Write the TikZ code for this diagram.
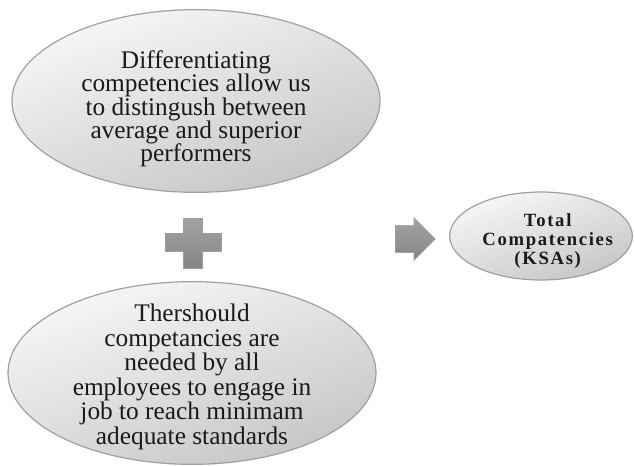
\documentclass[tikz,border=0pt]{standalone}
\usepackage{fontspec}
\setmainfont{Liberation Serif}
\usetikzlibrary{positioning,shapes.geometric,shapes.arrows}
\definecolor{kinkk}{HTML}{1A1A1A}
\definecolor{kedge}{HTML}{A0A0A0}
\definecolor{klite}{HTML}{F7F7F7}
\definecolor{kdark}{HTML}{C6C6C6}
\definecolor{kmark}{HTML}{858585}
\tikzset{
  oval/.style={ellipse, draw=kedge, line width=0.9pt, top color=klite, bottom color=kdark, shading angle=20, inner sep=0pt},
  bigoval/.style={oval, minimum width=276pt, minimum height=137pt},
  smalloval/.style={oval, minimum width=137pt, minimum height=66pt},
  ovaltext/.style={align=center, text=kinkk, inner sep=0pt},
  bigtext/.style={ovaltext, font=\fontsize{19}{18.4}\selectfont},
  smalltext/.style={ovaltext, font=\fontsize{14}{14.3}\selectfont\bfseries\addfontfeatures{LetterSpace=9}},
  plusmark/.style={draw=kmark!80, line width=0.4pt, top color=kmark!75, bottom color=kmark},
  blockarr/.style={single arrow, top color=kmark!75, bottom color=kmark, draw=kmark!80, line width=0.4pt, minimum height=30pt, single arrow head extend=5.75pt, single arrow tip angle=90, inner sep=0pt, text width=0pt, text height=20pt, text depth=0pt},
}
\begin{document}
\begin{tikzpicture}[x=0.75pt, y=-0.75pt]
  \useasboundingbox (0,0) rectangle (634,465);
  \node[bigoval] (diff) at (196,101) {};
  \node[bigtext, font=\fontsize{19}{17.5}\selectfont] (difftxt) at ([yshift=-6pt]diff.center) {Differentiating\\competencies allow us\\to distingush between\\average and superior\\performers};
  \node[bigoval] (thr) at (192,373) {};
  \node[bigtext] (thrtxt) at ([yshift=-3pt]thr.center) {Thershould\\competancies are\\needed by all\\employees to engage in\\job to reach minimam\\adequate standards};
  \node[smalloval] (tot) at (541,236) {};
  \node[smalltext] (tottxt) at ([xshift=5pt, yshift=-4pt]tot.center) {Total\\Compatencies\\(KSAs)};
  % plus sign between the two big ovals
  \path[plusmark] (183,218) -- (202,218) -- (202,233) -- (221,233) -- (221,251) -- (202,251) -- (202,268) -- (183,268) -- (183,251) -- (165,251) -- (165,233) -- (183,233) -- cycle;
  % block arrow pointing to the total
  \node[blockarr, anchor=west] (arr) at (395,239) {};
\end{tikzpicture}
\end{document}
